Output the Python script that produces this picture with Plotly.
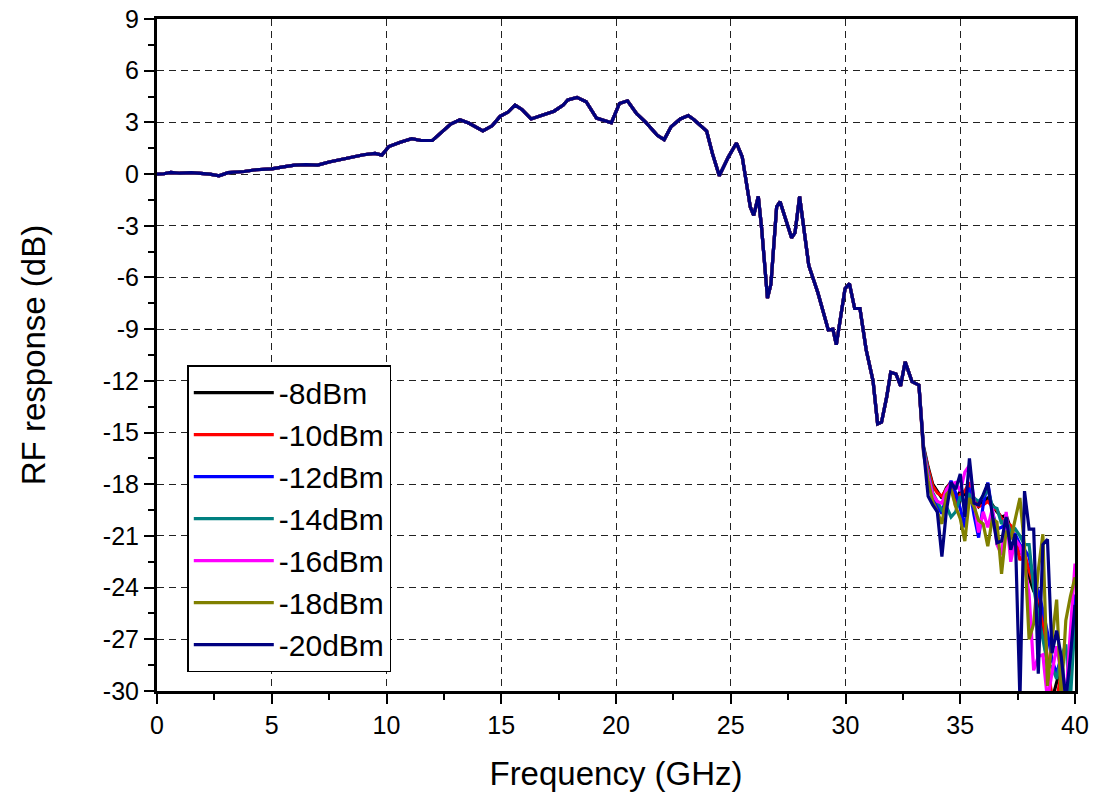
import plotly.graph_objects as go

# ---- data ----
freq_common = [0.0, 0.3, 0.6, 1.0, 1.5, 2.0, 2.3, 2.7, 3.1, 3.5, 3.8, 4.3, 5.0, 5.5, 6.0,
               6.5, 7.0, 7.5, 8.0, 8.5, 9.0, 9.5, 9.8, 10.1, 10.6, 11.1, 11.5, 12.0, 12.4, 12.8,
               13.2, 13.6, 14.2, 14.6, 14.95, 15.3, 15.6, 15.9, 16.3, 16.9, 17.3, 17.7, 17.9, 18.3, 18.7,
               19.15, 19.8, 20.15, 20.5, 20.9, 21.3, 21.8, 22.1, 22.4, 22.8, 23.15, 23.4, 23.95, 24.2, 24.5,
               24.9, 25.25, 25.5, 25.85, 26.0, 26.2, 26.35, 26.6, 26.75, 27.0, 27.15, 27.65, 27.8, 28.0, 28.4,
               28.8, 29.25, 29.45, 29.6, 29.98, 30.17, 30.4, 30.63, 30.9, 31.2, 31.4, 31.57, 31.8, 31.97, 32.2,
               32.4, 32.6, 32.9, 33.2]
resp_common = [0.0, 0.02, 0.1, 0.05, 0.08, 0.05, 0.0, -0.1, 0.08, 0.12, 0.15, 0.25, 0.3, 0.42, 0.52,
               0.55, 0.52, 0.7, 0.85, 1.0, 1.12, 1.2, 1.1, 1.6, 1.85, 2.05, 1.95, 1.95, 2.4, 2.9,
               3.15, 2.95, 2.5, 2.8, 3.35, 3.6, 4.0, 3.75, 3.2, 3.45, 3.65, 4.0, 4.3, 4.45, 4.2,
               3.25, 2.98, 4.1, 4.25, 3.5, 3.0, 2.25, 2.0, 2.75, 3.2, 3.4, 3.15, 2.5, 1.2, -0.1,
               1.0, 1.8, 1.0, -1.9, -2.4, -1.3, -3.2, -7.2, -6.4, -1.9, -1.6, -3.7, -3.4, -1.3, -5.3,
               -6.9, -9.05, -9.0, -9.9, -6.65, -6.35, -7.8, -7.8, -10.2, -12.0, -14.5, -14.4, -12.9, -11.5, -11.6,
               -12.3, -10.9, -12.05, -12.25]

freq_tail = [33.4, 33.6, 33.8, 34.0, 34.2, 34.4, 34.6, 34.8, 35.0, 35.2, 35.4, 35.6, 35.8, 36.0, 36.2,
             36.4, 36.6, 36.8, 37.0, 37.2, 37.4, 37.6, 37.8, 38.0, 38.2, 38.4, 38.6, 38.8, 39.0, 39.2,
             39.4, 39.6, 39.8, 40.0]

tail_m8 = [-15.8, -17.0, -18.0, -18.4, -18.8, -18.2, -17.9, -18.9, -18.4, -18.6, -18.0, -18.9, -19.3, -19.0, -18.8,
           -19.2, -19.6, -19.9, -19.8, -20.6, -21.3, -21.8, -22.4, -23.4, -24.2, -24.6, -26.4, -28.6, -30.5, -29.5,
           -28.6, -30.5, -29.0, -26.0]
tail_m10 = [-15.9, -17.1, -18.1, -18.5, -18.7, -18.3, -17.85, -19.3, -18.6, -18.4, -17.9, -18.8, -19.3, -19.2, -19.0,
            -19.3, -19.5, -20.0, -20.2, -20.4, -21.2, -22.4, -22.0, -23.0, -23.8, -24.4, -25.8, -28.0, -30.5, -30.5,
            -29.0, -30.5, -28.5, -25.2]
tail_m12 = [-16.0, -17.4, -18.6, -19.3, -19.7, -18.6, -17.8, -18.5, -19.4, -20.5, -18.2, -19.8, -21.1, -19.2, -17.9,
            -19.6, -20.6, -20.5, -20.3, -21.0, -20.9, -21.5, -21.8, -22.2, -23.6, -24.2, -25.3, -26.6, -28.2, -29.0,
            -28.0, -30.5, -27.5, -24.4]
tail_m14 = [-15.9, -17.3, -18.5, -19.0, -19.5, -19.3, -19.9, -19.6, -18.7, -19.2, -18.6, -18.8, -19.0, -18.7, -18.3,
            -19.3, -19.4, -20.3, -20.0, -20.8, -20.6, -21.0, -21.5, -21.5, -24.0, -25.6, -27.0, -28.4, -28.6, -29.3,
            -28.0, -27.3, -30.5, -25.8]
tail_m16 = [-16.1, -17.5, -18.6, -19.0, -19.1, -18.3, -18.0, -17.9, -18.4, -17.3, -16.9, -19.0, -20.8, -19.6, -20.5,
            -19.4, -21.5, -22.1, -19.6, -22.5, -21.2, -21.6, -22.6, -24.4, -28.8, -28.0, -27.9, -30.5, -29.0, -27.4,
            -29.0, -30.5, -26.5, -22.6]
tail_m18 = [-16.2, -17.8, -19.0, -19.6, -20.3, -18.6, -18.3, -19.3, -20.0, -21.3, -18.8, -19.3, -20.1, -20.3, -21.6,
            -20.0, -20.2, -23.2, -20.7, -21.2, -20.0, -18.8, -21.6, -27.0, -26.1, -23.0, -20.9, -29.7, -27.0, -24.7,
            -30.5, -25.9, -24.5, -23.4]
tail_m20 = [-16.0, -18.7, -19.2, -19.6, -22.2, -19.5, -17.9, -18.3, -17.4, -19.9, -16.5, -19.1, -19.2, -18.6, -17.95,
            -19.8, -21.4, -21.3, -19.9, -21.8, -20.9, -30.5, -18.4, -20.6, -20.6, -29.0, -21.5, -21.2, -27.8, -26.5,
            -28.0, -30.5, -28.0, -25.0]

series_names = ["-8dBm", "-10dBm", "-12dBm", "-14dBm", "-16dBm", "-18dBm", "-20dBm"]
series_tails = [tail_m8, tail_m10, tail_m12, tail_m14, tail_m16, tail_m18, tail_m20]
series_colors = ["#000000", "#FF0000", "#0000FF", "#008080", "#FF00FF", "#808000", "#000080"]

x_ticks = [0, 5, 10, 15, 20, 25, 30, 35, 40]
y_ticks = [9, 6, 3, 0, -3, -6, -9, -12, -15, -18, -21, -24, -27, -30]

FONT = "Liberation Sans, Arial, sans-serif"

fig = go.Figure()
for name, tail, color in zip(series_names, series_tails, series_colors):
    fig.add_trace(go.Scatter(
        x=freq_common + freq_tail,
        y=resp_common + tail,
        mode="lines",
        name=name,
        line=dict(color=color, width=3.2),
    ))

axis_common = dict(
    showline=True, linecolor="black", linewidth=3, mirror=True,
    ticks="outside", ticklen=10, tickwidth=2, tickcolor="black",
    showgrid=True, gridcolor="#222222", gridwidth=1.3, griddash="7px,5px",
    zeroline=False, automargin=False,
    tickfont=dict(family=FONT, size=25, color="black"),
)

fig.update_xaxes(
    range=[0, 40], tickvals=x_ticks, ticktext=[str(v) for v in x_ticks],
    minor=dict(dtick=2.5, tick0=0, ticks="outside", ticklen=6, tickwidth=2, tickcolor="black", showgrid=False),
    title=dict(text="Frequency (GHz)", font=dict(family=FONT, size=33, color="black"), standoff=24),
    **axis_common,
)
fig.update_yaxes(
    range=[-30, 9], tickvals=y_ticks, ticktext=[str(v) for v in y_ticks],
    minor=dict(dtick=1.5, tick0=0, ticks="outside", ticklen=6, tickwidth=2, tickcolor="black", showgrid=False),
    title=dict(text="RF response (dB)", font=dict(family=FONT, size=33, color="black"), standoff=48),
    **axis_common,
)

fig.update_layout(
    width=1093, height=797,
    margin=dict(l=157, r=18, t=19, b=106),
    plot_bgcolor="white", paper_bgcolor="white",
    font=dict(family=FONT, color="black"),
    legend=dict(
        x=0.033, y=0.485, xanchor="left", yanchor="top",
        bgcolor="white", bordercolor="black", borderwidth=1.5,
        font=dict(family=FONT, size=30, color="black"),
        itemwidth=80, tracegroupgap=0,
    ),
    showlegend=True,
)

fig.write_html("out.html")
